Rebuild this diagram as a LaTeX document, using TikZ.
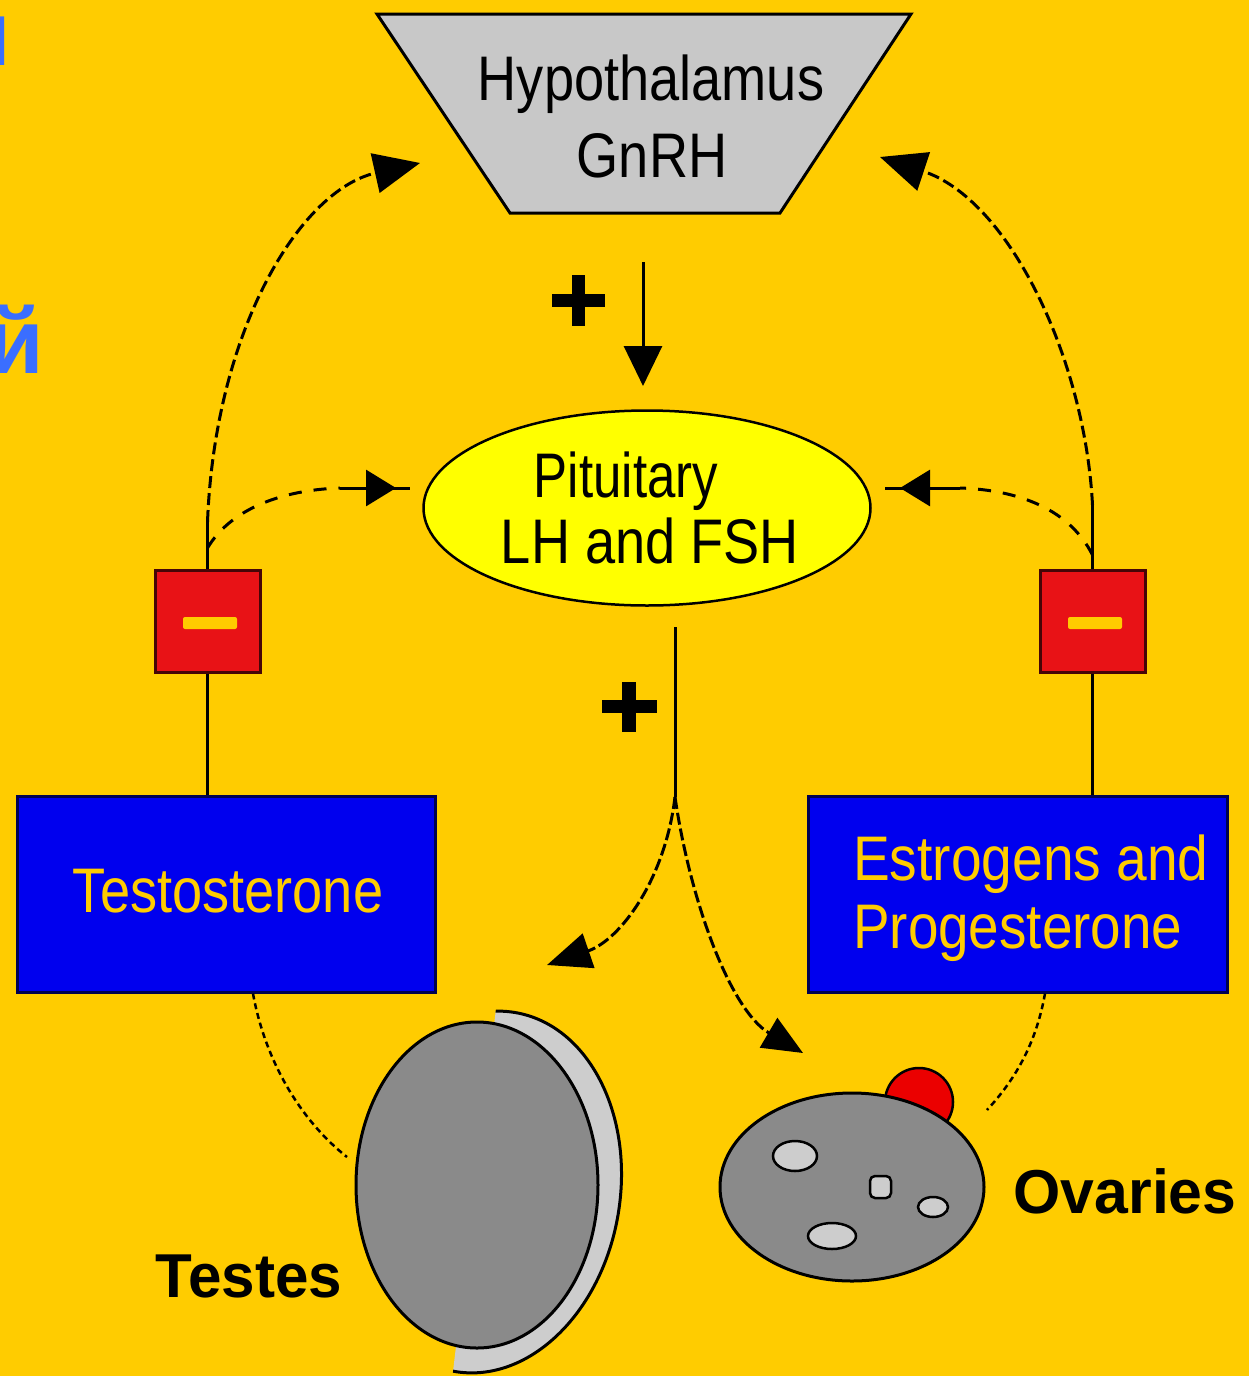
\documentclass[tikz,border=0pt]{standalone}
\usepackage{fontspec}
\setmainfont{Liberation Sans}
\usepackage{graphicx}
\usetikzlibrary{shapes.geometric,arrows.meta,decorations.markings,calc}

\definecolor{bg}{RGB}{255,204,0}
\definecolor{hypgrey}{RGB}{200,200,200}
\definecolor{pityel}{RGB}{255,255,0}
\definecolor{hormblue}{RGB}{0,0,238}
\definecolor{hormedge}{RGB}{0,0,80}
\definecolor{hormtext}{RGB}{255,204,0}
\definecolor{minusred}{RGB}{232,18,22}
\definecolor{organgrey}{RGB}{138,138,138}
\definecolor{lightgrey}{RGB}{205,205,205}
\definecolor{titleblue}{RGB}{58,110,255}
\definecolor{bump}{RGB}{235,0,0}

\newcommand{\squeeze}[2]{\scalebox{#1}[1]{#2}}

\tikzset{
  lbl/.style={inner sep=0pt, font=\fontsize{63pt}{70pt}\selectfont},
  blbl/.style={inner sep=0pt, font=\fontsize{62pt}{70pt}\selectfont\bfseries},
  frag/.style={inner sep=0pt, text=titleblue, font=\fontsize{92pt}{100pt}\selectfont\bfseries},
  solidln/.style={line width=3pt, black},
  fbdash/.style={line width=3pt, dash pattern=on 12pt off 5pt},
  sidedash/.style={line width=3pt, dash pattern=on 13pt off 12pt},
  forkdash/.style={line width=3pt, dash pattern=on 12pt off 4pt},
  dotln/.style={line width=2.5pt, dash pattern=on 6pt off 4pt},
  hormbox/.style={draw=hormedge, line width=3pt, fill=hormblue, inner sep=0pt,
                  minimum width=418pt, minimum height=196pt},
  minusbox/.style={draw=black!70!minusred, line width=3pt, fill=minusred, inner sep=0pt,
                   minimum width=105pt, minimum height=102pt},
  follicle/.style={line width=2.5pt, draw=black, fill=lightgrey},
  midtip/.style={postaction={decorate}, decoration={markings,
      mark=at position #1 with {\arrow{Triangle[length=30pt,width=36pt]}}}},
}

\begin{document}
\begin{tikzpicture}[x=1pt,y=-1pt]
  % canvas
  \useasboundingbox (0,0) rectangle (1249,1376);
  \clip (0,0) rectangle (1249,1376);
  \fill[bg] (0,0) rectangle (1249,1376);

  % cut-off heading letters at the left edge
  \node[frag, anchor=base east] (fragTop) at (11,65) {н};
  \node[frag, anchor=base east] (fragMid) at (44,373) {й};

  % hypothalamus
  \draw[line width=3pt, fill=hypgrey, line join=miter]
    (377,14) coordinate (hTL) -- (911,14) coordinate (hTR)
    -- (780,213) coordinate (hBR) -- (510,213) coordinate (hBL) -- cycle;
  \node[lbl, anchor=base] (hypA) at (651,100) {\squeeze{0.86}{Hypothalamus}};
  \node[lbl, anchor=base] (hypB) at (652,177) {\squeeze{0.86}{GnRH}};

  % pituitary
  \node[ellipse, draw, line width=2.5pt, fill=pityel, inner sep=0pt,
        minimum width=447pt, minimum height=195pt] (pit) at (647,508) {};
  \node[lbl, anchor=base] (pitA) at (626,497) {\squeeze{0.81}{Pituitary}};
  \node[lbl, anchor=base] (pitB) at (650,563) {\squeeze{0.86}{LH and FSH}};

  % GnRH stimulation
  \coordinate (gTop) at (643,262);
  \coordinate (gTip) at (643,386);
  \draw[solidln, -{Triangle[length=40pt,width=38pt]}] (gTop) -- (gTip);
  \fill (552,294) rectangle (605,307);
  \fill (572,275) rectangle (585,326);

  % LH/FSH stimulation of the gonads
  \coordinate (lhTop) at (675,627);
  \coordinate (lhFork) at (675,797);
  \coordinate (testArr) at (547,965);
  \coordinate (ovArr) at (803,1053);
  \draw[solidln] (lhTop) -- (lhFork);
  \draw[forkdash, -{Triangle[length=44pt,width=36pt]}]
    (lhFork) .. controls (665,880) and (620,940) .. (testArr);
  \draw[forkdash, -{Triangle[length=40pt,width=34pt]}]
    (lhFork) .. controls (690,900) and (730,1010) .. (ovArr);
  \fill (602,700) rectangle (657,713);
  \fill (622,682) rectangle (636,732);

  % hormone boxes
  \node[hormbox] (testo) at (226,894) {};
  \node[lbl, text=hormtext, anchor=base] (testoT) at (228,912) {\squeeze{0.86}{Testosterone}};
  \node[hormbox, minimum width=419pt] (estro) at (1017.5,894) {};
  \node[lbl, text=hormtext, anchor=base west] (estroA) at (853,880) {\squeeze{0.875}{Estrogens and}};
  \node[lbl, text=hormtext, anchor=base west] (estroB) at (853,948) {\squeeze{0.87}{Progesterone}};

  % negative feedback boxes
  \node[minusbox] (redL) at (207.5,621) {};
  \node[minusbox] (redR) at (1092.5,621) {};
  \fill[hormtext, rounded corners=2pt] (183,617) rectangle (237,629);
  \fill[hormtext, rounded corners=2pt] (1068,617) rectangle (1122,629);
  \draw[solidln] (redL.south) -- (redL.south |- testo.north);
  \draw[solidln] (redR.south) -- (redR.south |- estro.north);

  % left feedback loop
  \coordinate (splitL) at (207.5,522);
  \coordinate (brL) at (207.5,548);
  \coordinate (hypArrL) at (420,163);
  \coordinate (kneeL) at (340,488);
  \coordinate (pitArrL) at (410,488);
  \draw[solidln] (redL.north) -- (splitL);
  \draw[fbdash, -{Triangle[length=46pt,width=40pt]}]
    (splitL) .. controls (215,330) and (300,190) .. (hypArrL);
  \draw[sidedash] (brL) .. controls (230,510) and (280,490) .. (kneeL);
  \draw[solidln, midtip=0.8] (kneeL) -- (pitArrL);

  % right feedback loop
  \coordinate (splitR) at (1092.5,505);
  \coordinate (brR) at (1092.5,555);
  \coordinate (hypArrR) at (880,157);
  \coordinate (kneeR) at (960,488);
  \coordinate (pitArrR) at (885,488);
  \draw[solidln] (redR.north) -- (splitR);
  \draw[fbdash, -{Triangle[length=46pt,width=40pt]}]
    (splitR) .. controls (1085,360) and (1010,200) .. (hypArrR);
  \draw[sidedash] (brR) .. controls (1070,510) and (1020,490) .. (kneeR);
  \draw[solidln, midtip=0.8] (kneeR) -- (pitArrR);

  % testes
  \begin{scope}
    \clip (497,1000) -- (700,1000) -- (700,1380) -- (452,1380) -- cycle;
    \draw[line width=3pt, fill=lightgrey, rotate around={-9.5:(485,1192)}]
      (485,1192) ellipse [x radius=135pt, y radius=182pt];
  \end{scope}
  \draw[line width=3pt, fill=organgrey] (477,1185) coordinate (testes)
    ellipse [x radius=121pt, y radius=163pt];
  \node[blbl, anchor=base] (testesT) at (249,1297) {\squeeze{0.97}{Testes}};

  % ovaries
  \draw[line width=2.5pt, fill=bump] (919,1102) circle [radius=34pt];
  \draw[line width=3pt, fill=organgrey] (852,1187) coordinate (ovary)
    ellipse [x radius=132pt, y radius=94pt];
  \draw[follicle] (795,1156) ellipse [x radius=22pt, y radius=15pt];
  \draw[follicle, rounded corners=5pt] (870,1176) rectangle (891,1198);
  \draw[follicle] (933,1207) ellipse [x radius=15pt, y radius=10pt];
  \draw[follicle] (832,1236) ellipse [x radius=24pt, y radius=13pt];
  \node[blbl, anchor=base] (ovT) at (1125,1213) {\squeeze{0.98}{Ovaries}};

  % hormone boxes to gonads
  \coordinate (tsEnd) at (347,1157);
  \coordinate (ovEnd) at (987,1110);
  \draw[dotln] ($(testo.south)+(27,0)$) .. controls (265,1060) and (300,1120) .. (tsEnd);
  \draw[dotln] ($(estro.south)+(27.5,0)$) .. controls (1035,1050) and (1010,1085) .. (ovEnd);
\end{tikzpicture}
\end{document}
